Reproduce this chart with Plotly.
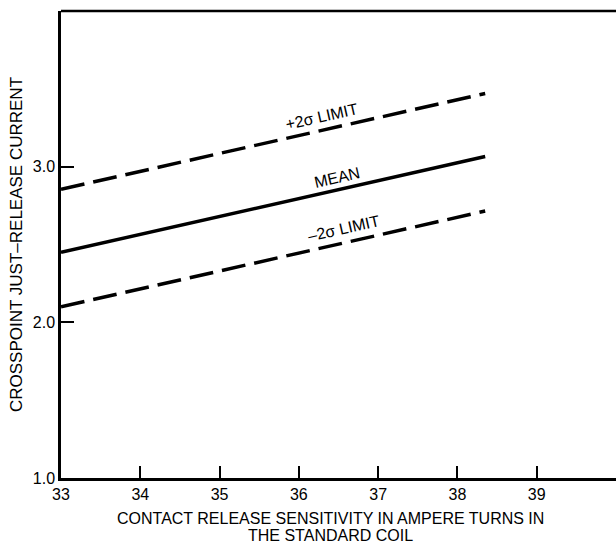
import plotly.graph_objects as go

# Data
x_vals = [33.0, 38.35]
plus2_vals = [2.855, 3.47]
mean_vals = [2.45, 3.065]
minus2_vals = [2.10, 2.715]

x_ticks = [33, 34, 35, 36, 37, 38, 39]
y_ticks = [1.0, 2.0, 3.0]
y_tick_text = ["1.0", "2.0", "3.0"]

labels = ["+2σ LIMIT", "MEAN", "–2σ LIMIT"]
label_x = [36.29, 36.48, 36.56]
label_y = [3.32, 2.93, 2.606]

x_title_lines = ["CONTACT RELEASE SENSITIVITY IN AMPERE TURNS IN", "THE STANDARD COIL"]
y_title = "CROSSPOINT JUST–RELEASE CURRENT"

FONT = "Liberation Sans, Arial, sans-serif"

fig = go.Figure()
fig.add_trace(go.Scatter(x=x_vals, y=plus2_vals, mode="lines",
                         line=dict(color="black", width=3.5, dash="24px,9px")))
fig.add_trace(go.Scatter(x=x_vals, y=mean_vals, mode="lines",
                         line=dict(color="black", width=3.5)))
fig.add_trace(go.Scatter(x=x_vals, y=minus2_vals, mode="lines",
                         line=dict(color="black", width=3.5, dash="24px,9px")))

for t, lx, ly in zip(labels, label_x, label_y):
    fig.add_annotation(x=lx, y=ly, text=t, showarrow=False, textangle=-12.7,
                       font=dict(family=FONT, size=16, color="black"))

# x-axis title as two lines with tight spacing
for t, py in zip(x_title_lines, [-40.0 / 467, -57.0 / 467]):
    fig.add_annotation(xref="paper", yref="paper", x=0.485, y=py, text=t,
                       showarrow=False, xanchor="center", yanchor="middle",
                       font=dict(family=FONT, size=16, color="black"))

# top border only (right side is cut off in the reference)
fig.add_shape(type="line", xref="paper", yref="paper", x0=0, x1=1, y0=1, y1=1,
              line=dict(color="black", width=2.5))

fig.update_layout(
    width=616, height=547,
    margin=dict(l=61, r=0, t=11, b=69),
    paper_bgcolor="white", plot_bgcolor="white",
    showlegend=False,
    font=dict(family=FONT, size=16, color="black"),
    xaxis=dict(range=[33, 40], tickvals=x_ticks, ticks="inside", ticklen=12,
               tickwidth=2, tickcolor="black", showline=True, linecolor="black",
               linewidth=2.5, showgrid=False, zeroline=False,
               tickfont=dict(family=FONT, size=16, color="black")),
    yaxis=dict(range=[1, 4], tickvals=y_ticks, ticktext=y_tick_text, ticks="inside",
               ticklen=13, tickwidth=2, tickcolor="black", showline=True,
               linecolor="black", linewidth=2.5, showgrid=False, zeroline=False,
               tickfont=dict(family=FONT, size=16, color="black"),
               title=dict(text=y_title,
                          font=dict(family=FONT, size=17, color="black"), standoff=6)),
)

fig.write_html("out.html", config={"displayModeBar": False},
               post_script="document.body.style.margin='0';document.body.style.overflow='hidden';")
